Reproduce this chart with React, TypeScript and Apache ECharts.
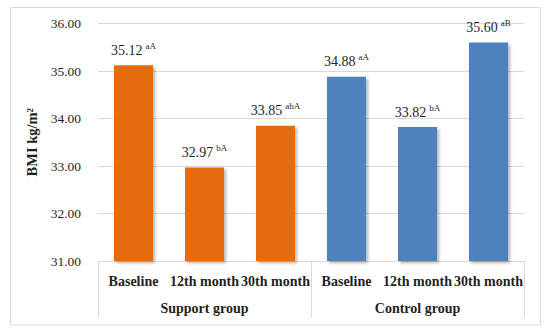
import React, { useEffect, useRef } from "react";
import * as echarts from "echarts";

const categories = ["Baseline", "12th month", "30th month", "Baseline", "12th month", "30th month"];
const groups = ["Support group", "Control group"];
const values = [35.12, 32.97, 33.85, 34.88, 33.82, 35.6];
const letters = ["aA", "bA", "abA", "aA", "bA", "aB"];
const barColors = ["#E46C0A", "#E46C0A", "#E46C0A", "#4F81BD", "#4F81BD", "#4F81BD"];

const FONT = "'Liberation Serif', 'Times New Roman', serif";
const TEXT = "#1f1f1f";

export default function App() {
  const ref = useRef<HTMLDivElement>(null);
  useEffect(() => {
    const chart = echarts.init(ref.current!, undefined, { renderer: "svg" });
    chart.setOption({
      animation: false,
      textStyle: { fontFamily: FONT },
      graphic: [
        {
          type: "rect",
          shape: { x: 10.5, y: 7.5, width: 530, height: 317.5 },
          style: { fill: "none", stroke: "#D9D9D9", lineWidth: 1 },
          silent: true,
        },
      ],
      grid: { left: 98, right: 26, top: 23.5, bottom: 72, containLabel: false },
      xAxis: [
        {
          type: "category",
          data: categories,
          position: "bottom",
          axisLine: { show: true, lineStyle: { color: "#D9D9D9", width: 1 } },
          axisTick: { show: false },
          axisLabel: {
            interval: 0,
            margin: 13,
            color: TEXT,
            fontFamily: FONT,
            fontWeight: "bold",
            fontSize: 14,
          },
        },
        {
          type: "category",
          data: groups,
          position: "bottom",
          axisLine: { show: false },
          axisTick: { show: true, length: 56, lineStyle: { color: "#D9D9D9", width: 1 } },
          axisLabel: {
            interval: 0,
            margin: 40,
            color: TEXT,
            fontFamily: FONT,
            fontWeight: "bold",
            fontSize: 14,
          },
        },
      ],
      yAxis: {
        type: "value",
        min: 31,
        max: 36,
        interval: 1,
        name: "BMI kg/m²",
        nameLocation: "middle",
        nameGap: 53,
        nameTextStyle: { color: TEXT, fontFamily: FONT, fontWeight: "bold", fontSize: 14.5 },
        axisLine: { show: false },
        axisTick: { show: false },
        axisLabel: {
          margin: 17,
          color: TEXT,
          fontFamily: FONT,
          fontSize: 13.5,
          formatter: (v: number) => v.toFixed(2),
        },
        splitLine: { lineStyle: { color: "#D9D9D9", width: 1 } },
      },
      series: [
        {
          type: "bar",
          xAxisIndex: 0,
          barWidth: "55%",
          data: values.map((v, i) => ({ value: v, itemStyle: { color: barColors[i] } })),
          itemStyle: {
            shadowBlur: 3,
            shadowOffsetX: 2,
            shadowOffsetY: 2,
            shadowColor: "rgba(0,0,0,0.3)",
          },
          label: {
            show: true,
            position: "top",
            distance: 8,
            formatter: (p: any) => `{v|${values[p.dataIndex].toFixed(2)}} {s|${letters[p.dataIndex]}}`,
            rich: {
              v: { fontSize: 14, color: TEXT, fontFamily: FONT, lineHeight: 16, verticalAlign: "bottom" },
              s: { fontSize: 9, color: TEXT, fontFamily: FONT, lineHeight: 13, verticalAlign: "top" },
            },
          },
        },
      ],
    });
    return () => chart.dispose();
  }, []);
  return <div ref={ref} style={{ position: "fixed", left: 0, top: 0, width: 550, height: 333, background: "#fff" }} />;
}
